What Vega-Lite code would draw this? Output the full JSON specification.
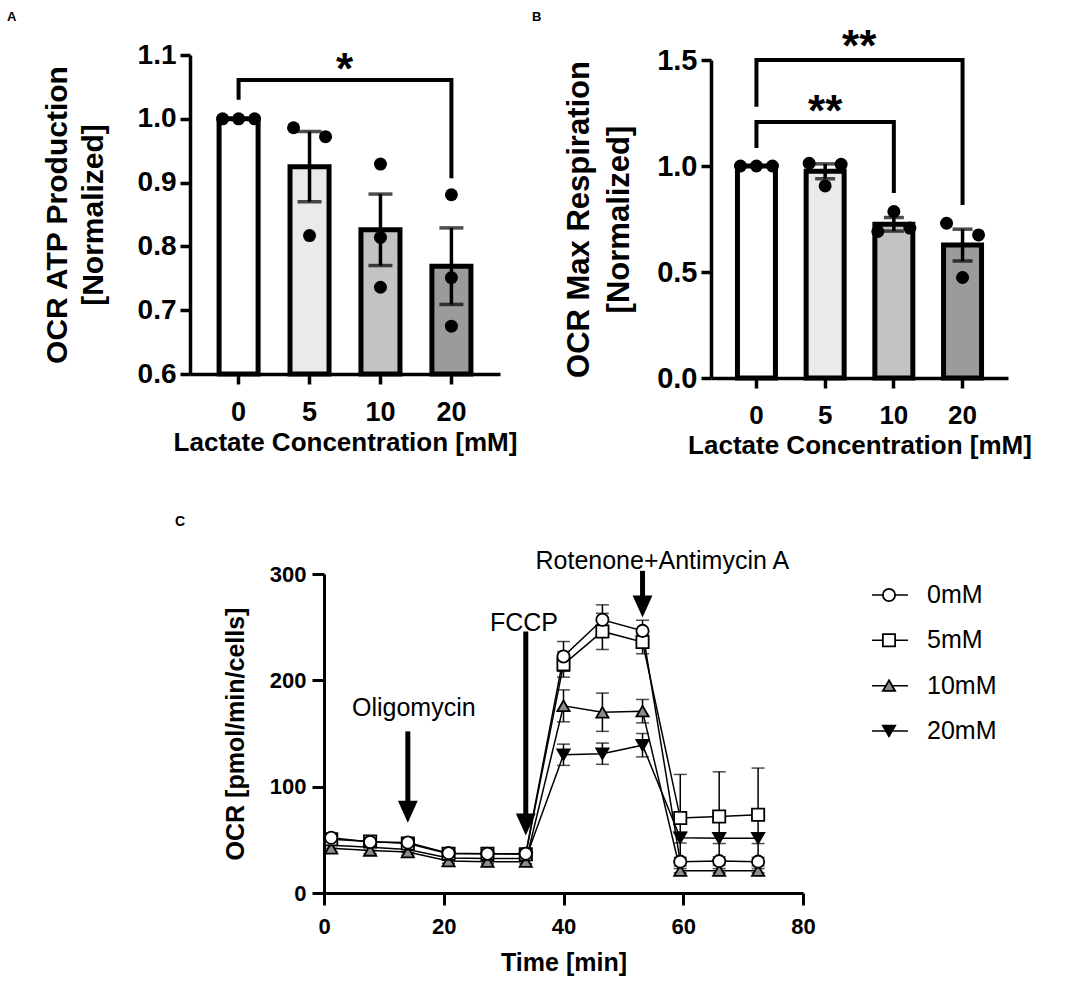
{
  "$schema": "https://vega.github.io/schema/vega-lite/v6.json",
  "background": "white",
  "padding": {"left": 7, "top": 10, "right": 5, "bottom": 5},
  "config": {
    "font": "Liberation Sans",
    "view": {"stroke": null},
    "axis": {"domainColor": "black", "tickColor": "black", "labelColor": "black", "titleColor": "black", "grid": false},
    "title": {"color": "black"}
  },
  "datasets": {
    "atp_bar": [
      {"lac": "0", "v": 1.0, "sem": 0},
      {"lac": "5", "v": 0.925, "sem": 0.055},
      {"lac": "10", "v": 0.826, "sem": 0.056},
      {"lac": "20", "v": 0.769, "sem": 0.06}
    ],
    "atp_pts": [
      {"lac": "0", "v": 1.0, "jit": -1}, {"lac": "0", "v": 1.0, "jit": 0}, {"lac": "0", "v": 1.0, "jit": 1},
      {"lac": "5", "v": 0.986, "jit": -1}, {"lac": "5", "v": 0.817, "jit": 0}, {"lac": "5", "v": 0.972, "jit": 1},
      {"lac": "10", "v": 0.929, "jit": 0}, {"lac": "10", "v": 0.814, "jit": 0}, {"lac": "10", "v": 0.736, "jit": 0},
      {"lac": "20", "v": 0.881, "jit": 0}, {"lac": "20", "v": 0.751, "jit": 0}, {"lac": "20", "v": 0.675, "jit": 0}
    ],
    "atp_br": [
      {"id": "a", "k": 1, "lac": "0", "v": 1.03},
      {"id": "a", "k": 2, "lac": "0", "v": 1.061},
      {"id": "a", "k": 3, "lac": "20", "v": 1.061},
      {"id": "a", "k": 4, "lac": "20", "v": 0.907}
    ],
    "atp_sig": [{"lac": "5", "v": 1.091, "s": "*"}],
    "max_bar": [
      {"lac": "0", "v": 1.0, "sem": 0},
      {"lac": "5", "v": 0.975, "sem": 0.035},
      {"lac": "10", "v": 0.725, "sem": 0.032},
      {"lac": "20", "v": 0.627, "sem": 0.075}
    ],
    "max_pts": [
      {"lac": "0", "v": 1.0, "jit": -1}, {"lac": "0", "v": 1.0, "jit": 0}, {"lac": "0", "v": 1.0, "jit": 1},
      {"lac": "5", "v": 1.013, "jit": -1}, {"lac": "5", "v": 0.906, "jit": 0}, {"lac": "5", "v": 1.008, "jit": 1},
      {"lac": "10", "v": 0.785, "jit": 0}, {"lac": "10", "v": 0.691, "jit": -1}, {"lac": "10", "v": 0.707, "jit": 1},
      {"lac": "20", "v": 0.730, "jit": -1}, {"lac": "20", "v": 0.474, "jit": 0}, {"lac": "20", "v": 0.675, "jit": 1}
    ],
    "max_br": [
      {"id": "u", "k": 1, "lac": "0", "v": 1.28},
      {"id": "u", "k": 2, "lac": "0", "v": 1.5},
      {"id": "u", "k": 3, "lac": "20", "v": 1.5},
      {"id": "u", "k": 4, "lac": "20", "v": 0.816},
      {"id": "l", "k": 1, "lac": "0", "v": 1.085},
      {"id": "l", "k": 2, "lac": "0", "v": 1.208},
      {"id": "l", "k": 3, "lac": "10", "v": 1.208},
      {"id": "l", "k": 4, "lac": "10", "v": 0.873}
    ],
    "max_sig_hi": [{"lac": "5", "v": 1.604, "s": "**"}],
    "max_sig_lo": [{"lac": "5", "v": 1.297, "s": "**"}],
    "ocr": [
      {"g": "20mM", "t": 1.2, "v": 45, "e": 3}, {"g": "20mM", "t": 7.7, "v": 43, "e": 3}, {"g": "20mM", "t": 14.0, "v": 41, "e": 3},
      {"g": "20mM", "t": 20.8, "v": 33, "e": 2}, {"g": "20mM", "t": 27.3, "v": 32.5, "e": 2}, {"g": "20mM", "t": 33.7, "v": 32.5, "e": 2},
      {"g": "20mM", "t": 40.0, "v": 130, "e": 10}, {"g": "20mM", "t": 46.5, "v": 131, "e": 10}, {"g": "20mM", "t": 53.2, "v": 139, "e": 11},
      {"g": "20mM", "t": 59.5, "v": 52, "e": 5}, {"g": "20mM", "t": 66.0, "v": 51.5, "e": 5}, {"g": "20mM", "t": 72.5, "v": 51.5, "e": 5},
      {"g": "10mM", "t": 1.2, "v": 42, "e": 3}, {"g": "10mM", "t": 7.7, "v": 40, "e": 3}, {"g": "10mM", "t": 14.0, "v": 38.5, "e": 3},
      {"g": "10mM", "t": 20.8, "v": 30, "e": 2}, {"g": "10mM", "t": 27.3, "v": 29.5, "e": 2}, {"g": "10mM", "t": 33.7, "v": 29.5, "e": 2},
      {"g": "10mM", "t": 40.0, "v": 176, "e": 15}, {"g": "10mM", "t": 46.5, "v": 170, "e": 18}, {"g": "10mM", "t": 53.2, "v": 171, "e": 11},
      {"g": "10mM", "t": 59.5, "v": 21, "e": 2}, {"g": "10mM", "t": 66.0, "v": 21, "e": 2}, {"g": "10mM", "t": 72.5, "v": 21, "e": 2},
      {"g": "5mM", "t": 1.2, "v": 50.5, "e": 3}, {"g": "5mM", "t": 7.7, "v": 48.5, "e": 3}, {"g": "5mM", "t": 14.0, "v": 46.5, "e": 3},
      {"g": "5mM", "t": 20.8, "v": 37, "e": 2}, {"g": "5mM", "t": 27.3, "v": 37, "e": 2}, {"g": "5mM", "t": 33.7, "v": 36.5, "e": 2},
      {"g": "5mM", "t": 40.0, "v": 215, "e": 12}, {"g": "5mM", "t": 46.5, "v": 246, "e": 17}, {"g": "5mM", "t": 53.2, "v": 236, "e": 11},
      {"g": "5mM", "t": 59.5, "v": 70.5, "e": 41}, {"g": "5mM", "t": 66.0, "v": 72, "e": 42}, {"g": "5mM", "t": 72.5, "v": 73.5, "e": 44},
      {"g": "0mM", "t": 1.2, "v": 52, "e": 3}, {"g": "0mM", "t": 7.7, "v": 48, "e": 3}, {"g": "0mM", "t": 14.0, "v": 47.5, "e": 3},
      {"g": "0mM", "t": 20.8, "v": 37.5, "e": 2}, {"g": "0mM", "t": 27.3, "v": 37, "e": 2}, {"g": "0mM", "t": 33.7, "v": 37, "e": 2},
      {"g": "0mM", "t": 40.0, "v": 222.5, "e": 14}, {"g": "0mM", "t": 46.5, "v": 257, "e": 14}, {"g": "0mM", "t": 53.2, "v": 246.5, "e": 10},
      {"g": "0mM", "t": 59.5, "v": 29.5, "e": 4}, {"g": "0mM", "t": 66.0, "v": 30, "e": 4}, {"g": "0mM", "t": 72.5, "v": 29.5, "e": 4}
    ],
    "shafts": [
      {"t": 14.0, "v": 152, "v2": 73},
      {"t": 33.7, "v": 246, "v2": 61},
      {"t": 53.2, "v": 303, "v2": 266}
    ],
    "heads": [
      {"t": 14.0, "v": 66},
      {"t": 33.7, "v": 54},
      {"t": 53.2, "v": 259}
    ],
    "notes": [
      {"t": 15.0, "v": 174, "label": "Oligomycin"},
      {"t": 33.4, "v": 254, "label": "FCCP"},
      {"t": 56.5, "v": 312, "label": "Rotenone+Antimycin A"}
    ],
    "leg": [{"g": "0mM"}, {"g": "5mM"}, {"g": "10mM"}, {"g": "20mM"}]
  },
  "spacing": 57,
  "vconcat": [
    {
      "spacing": 15,
      "hconcat": [
        {
          "width": 310,
          "height": 319,
          "title": {"text": "A", "anchor": "start", "frame": "group", "dx": -183, "fontSize": 13, "fontWeight": "bold", "offset": 17},
          "encoding": {
            "x": {
              "field": "lac", "type": "nominal",
              "scale": {"domain": ["0", "5", "10", "20"], "paddingInner": 0.45, "paddingOuter": 0.41},
              "axis": {"title": "Lactate Concentration [mM]", "labelAngle": 0, "labelFontSize": 27, "labelFontWeight": "bold", "titleFontSize": 26, "titleFontWeight": "bold", "tickSize": 10, "tickWidth": 3.5, "domainWidth": 3.5, "labelPadding": 15, "titlePadding": 4}
            },
            "y": {
              "field": "v", "type": "quantitative",
              "scale": {"domain": [0.6, 1.1], "zero": false, "nice": false},
              "axis": {"title": ["OCR ATP Production", "[Normalized]"], "values": [0.6, 0.7, 0.8, 0.9, 1.0, 1.1], "format": ".1f", "labelFontSize": 28, "labelFontWeight": "bold", "titleFontSize": 30, "titleFontWeight": "bold", "titleLineHeight": 36, "tickSize": 10, "tickWidth": 3.5, "domainWidth": 3.5, "labelPadding": 4, "titlePadding": 29}
            }
          },
          "layer": [
            {
              "data": {"name": "atp_bar"},
              "mark": {"type": "bar", "stroke": "black", "strokeWidth": 5},
              "encoding": {
                "y2": {"datum": 0.6},
                "color": {"field": "lac", "type": "nominal", "scale": {"domain": ["0", "5", "10", "20"], "range": ["#ffffff", "#eaeaea", "#c3c3c3", "#9b9b9b"]}, "legend": null}
              }
            },
            {
              "data": {"name": "atp_bar"},
              "transform": [{"filter": "datum.sem > 0"}],
              "mark": {"type": "errorbar", "color": "black", "ticks": {"size": 24, "thickness": 3.5}, "rule": {"strokeWidth": 3.5}},
              "encoding": {"yError": {"field": "sem"}}
            },
            {
              "data": {"name": "atp_pts"},
              "transform": [{"filter": "datum.jit < 0"}],
              "mark": {"type": "circle", "size": 169, "color": "black", "opacity": 1, "xOffset": -16}
            },
            {
              "data": {"name": "atp_pts"},
              "transform": [{"filter": "datum.jit == 0"}],
              "mark": {"type": "circle", "size": 169, "color": "black", "opacity": 1}
            },
            {
              "data": {"name": "atp_pts"},
              "transform": [{"filter": "datum.jit > 0"}],
              "mark": {"type": "circle", "size": 169, "color": "black", "opacity": 1, "xOffset": 16}
            },
            {
              "data": {"name": "atp_br"},
              "mark": {"type": "line", "color": "black", "strokeWidth": 4, "strokeJoin": "miter"},
              "encoding": {"detail": {"field": "id"}, "order": {"field": "k"}}
            },
            {
              "data": {"name": "atp_sig"},
              "mark": {"type": "text", "fontSize": 44, "fontWeight": "bold", "baseline": "middle", "dx": 35, "dy": 10},
              "encoding": {"text": {"field": "s"}}
            }
          ]
        },
        {
          "width": 297,
          "height": 323,
          "title": {"text": "B", "anchor": "start", "frame": "group", "dx": -179, "fontSize": 13, "fontWeight": "bold", "offset": 2},
          "encoding": {
            "x": {
              "field": "lac", "type": "nominal",
              "scale": {"domain": ["0", "5", "10", "20"], "paddingInner": 0.447, "paddingOuter": 0.385},
              "axis": {"title": "Lactate Concentration [mM]", "labelAngle": 0, "labelFontSize": 26, "labelFontWeight": "bold", "titleFontSize": 26, "titleFontWeight": "bold", "tickSize": 10, "tickWidth": 3.5, "domainWidth": 3.5, "labelPadding": 14, "titlePadding": 4}
            },
            "y": {
              "field": "v", "type": "quantitative",
              "scale": {"domain": [0, 1.5], "nice": false, "range": [323, 5]},
              "axis": {"title": ["OCR Max Respiration", "[Normalized]"], "values": [0, 0.5, 1.0, 1.5], "format": ".1f", "labelFontSize": 29, "labelFontWeight": "bold", "titleFontSize": 31, "titleFontWeight": "bold", "titleLineHeight": 40, "tickSize": 10, "tickWidth": 3.5, "domainWidth": 3.5, "labelPadding": 4, "titlePadding": 21}
            }
          },
          "layer": [
            {
              "data": {"name": "max_bar"},
              "mark": {"type": "bar", "stroke": "black", "strokeWidth": 5},
              "encoding": {
                "y2": {"datum": 0},
                "color": {"field": "lac", "type": "nominal", "scale": {"domain": ["0", "5", "10", "20"], "range": ["#ffffff", "#eaeaea", "#c3c3c3", "#9b9b9b"]}, "legend": null}
              }
            },
            {
              "data": {"name": "max_bar"},
              "transform": [{"filter": "datum.sem > 0"}],
              "mark": {"type": "errorbar", "color": "black", "ticks": {"size": 20, "thickness": 3.5}, "rule": {"strokeWidth": 3.5}},
              "encoding": {"yError": {"field": "sem"}}
            },
            {
              "data": {"name": "max_pts"},
              "transform": [{"filter": "datum.jit < 0"}],
              "mark": {"type": "circle", "size": 169, "color": "black", "opacity": 1, "xOffset": -16}
            },
            {
              "data": {"name": "max_pts"},
              "transform": [{"filter": "datum.jit == 0"}],
              "mark": {"type": "circle", "size": 169, "color": "black", "opacity": 1}
            },
            {
              "data": {"name": "max_pts"},
              "transform": [{"filter": "datum.jit > 0"}],
              "mark": {"type": "circle", "size": 169, "color": "black", "opacity": 1, "xOffset": 16}
            },
            {
              "data": {"name": "max_br"},
              "mark": {"type": "line", "color": "black", "strokeWidth": 4, "strokeJoin": "miter"},
              "encoding": {"detail": {"field": "id"}, "order": {"field": "k"}}
            },
            {
              "data": {"name": "max_sig_hi"},
              "mark": {"type": "text", "fontSize": 44, "fontWeight": "bold", "baseline": "middle", "dx": 34, "dy": 10},
              "encoding": {"text": {"field": "s"}}
            },
            {
              "data": {"name": "max_sig_lo"},
              "mark": {"type": "text", "fontSize": 44, "fontWeight": "bold", "baseline": "middle", "dy": 10},
              "encoding": {"text": {"field": "s"}}
            }
          ]
        }
      ]
    },
    {
      "spacing": 0,
      "hconcat": [
        {
          "width": 33,
          "height": 10,
          "title": {"text": "C", "anchor": "start", "frame": "group", "dx": -15, "fontSize": 14, "fontWeight": "bold", "offset": 45},
          "data": {"values": [{}]},
          "mark": {"type": "point", "opacity": 0},
          "encoding": {}
        },
        {
          "spacing": 55,
          "hconcat": [
            {
              "width": 479,
              "height": 319,
              "encoding": {
                "x": {
                  "field": "t", "type": "quantitative",
                  "scale": {"domain": [0, 80], "nice": false},
                  "axis": {"title": "Time [min]", "values": [0, 20, 40, 60, 80], "labelFlush": false, "labelFontSize": 22, "labelFontWeight": "bold", "titleFontSize": 25, "titleFontWeight": "bold", "tickSize": 12, "tickWidth": 3, "domainWidth": 3, "labelPadding": 11, "titlePadding": 13}
                },
                "y": {
                  "field": "v", "type": "quantitative",
                  "scale": {"domain": [0, 300], "nice": false},
                  "axis": {"title": "OCR [pmol/min/cells]", "values": [0, 100, 200, 300], "labelFontSize": 22, "labelFontWeight": "bold", "titleFontSize": 25, "titleFontWeight": "bold", "tickSize": 12, "tickWidth": 3, "domainWidth": 3, "labelPadding": 6, "titlePadding": 21}
                }
              },
              "layer": [
                {
                  "data": {"name": "ocr"},
                  "mark": {"type": "errorbar", "color": "black", "ticks": {"size": 13, "thickness": 1.5}, "rule": {"strokeWidth": 1.5}},
                  "encoding": {"yError": {"field": "e"}, "detail": {"field": "g"}}
                },
                {
                  "data": {"name": "ocr"},
                  "mark": {"type": "line", "color": "black", "strokeWidth": 1.5},
                  "encoding": {"detail": {"field": "g"}}
                },
                {
                  "data": {"name": "ocr"},
                  "mark": {"type": "point", "filled": true, "size": 150, "stroke": "black", "strokeWidth": 1.8, "opacity": 1},
                  "encoding": {
                    "shape": {"field": "g", "type": "nominal", "scale": {"domain": ["0mM", "5mM", "10mM", "20mM"], "range": ["circle", "square", "triangle-up", "triangle-down"]}, "legend": null},
                    "fill": {"field": "g", "type": "nominal", "scale": {"domain": ["0mM", "5mM", "10mM", "20mM"], "range": ["#ffffff", "#ffffff", "#8c8c8c", "#000000"]}, "legend": null}
                  }
                },
                {
                  "data": {"name": "shafts"},
                  "mark": {"type": "rule", "color": "black", "strokeWidth": 5},
                  "encoding": {"y2": {"field": "v2"}}
                },
                {
                  "data": {"name": "heads"},
                  "mark": {"type": "point", "shape": "M-0.9,-2L0.9,-2L0,0Z", "size": 484, "filled": true, "color": "black", "opacity": 1},
                  "encoding": {}
                },
                {
                  "data": {"name": "notes"},
                  "mark": {"type": "text", "fontSize": 25, "baseline": "middle", "color": "black"},
                  "encoding": {"text": {"field": "label"}}
                }
              ]
            },
            {
              "width": 150,
              "height": 319,
              "data": {"name": "leg"},
              "encoding": {
                "y": {"field": "g", "type": "nominal", "scale": {"type": "point", "padding": 0, "domain": ["0mM", "5mM", "10mM", "20mM"], "range": [21, 157]}, "axis": null}
              },
              "layer": [
                {
                  "mark": {"type": "rule", "color": "black", "strokeWidth": 1.5},
                  "encoding": {
                    "x": {"datum": 0, "type": "quantitative", "scale": {"domain": [0, 150], "nice": false, "zero": false}, "axis": null},
                    "x2": {"datum": 36}
                  }
                },
                {
                  "mark": {"type": "point", "filled": true, "size": 150, "stroke": "black", "strokeWidth": 1.8, "opacity": 1},
                  "encoding": {
                    "x": {"datum": 17, "type": "quantitative"},
                    "shape": {"field": "g", "type": "nominal", "scale": {"domain": ["0mM", "5mM", "10mM", "20mM"], "range": ["circle", "square", "triangle-up", "triangle-down"]}, "legend": null},
                    "fill": {"field": "g", "type": "nominal", "scale": {"domain": ["0mM", "5mM", "10mM", "20mM"], "range": ["#ffffff", "#ffffff", "#8c8c8c", "#000000"]}, "legend": null}
                  }
                },
                {
                  "mark": {"type": "text", "align": "left", "baseline": "middle", "fontSize": 25, "color": "black"},
                  "encoding": {
                    "x": {"datum": 55, "type": "quantitative"},
                    "text": {"field": "g"}
                  }
                }
              ]
            }
          ]
        }
      ]
    }
  ]
}
